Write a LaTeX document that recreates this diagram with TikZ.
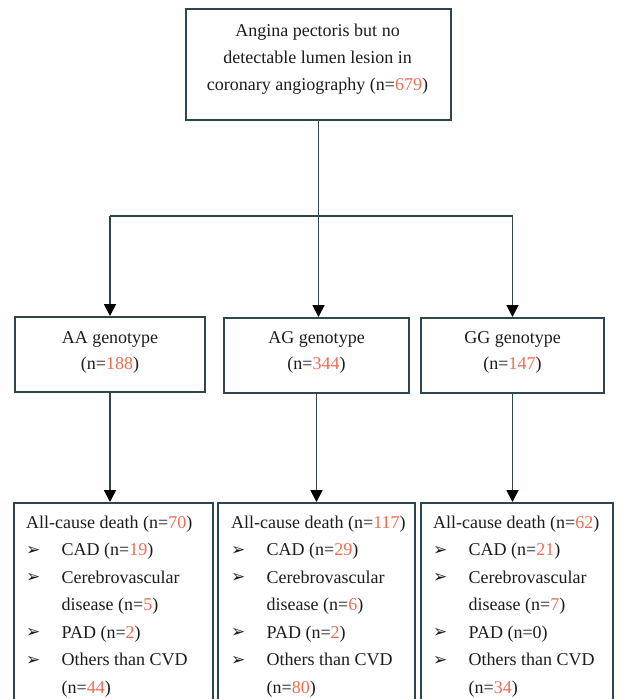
\documentclass[tikz,border=0pt]{standalone}
\usepackage{fontspec}
\setmainfont{Liberation Serif}
\newfontfamily\dingfont{DejaVu Sans}
\usetikzlibrary{arrows.meta}
\definecolor{txt}{RGB}{30,27,28}
\definecolor{num}{RGB}{240,108,80}
\definecolor{frame}{RGB}{45,70,80}
\newcommand\nn[1]{\textcolor{num}{#1}}
\newcommand\bul{\makebox[35.5pt][l]{\raisebox{0.5pt}{\dingfont\fontsize{17}{17}\selectfont ➢}}}
\newcommand\ind{\hspace*{35.5pt}}
\begin{document}
\begin{tikzpicture}[x=1pt,y=-1pt,
  box/.style={draw=frame, line width=2pt, inner sep=0pt, anchor=north west},
  txtnode/.style={inner sep=0pt, text=txt},
  conn/.style={draw=frame, line width=1.8pt},
  arr/.style={conn, -{Triangle[width=12pt,length=12pt,color=black]}},
]
\useasboundingbox (0,0) rectangle (622,699);
% boxes
\node[box, minimum width=265pt, minimum height=111pt] (top) at (185,8) {};
\node[box, minimum width=190pt, minimum height=75pt] (aa) at (14,316) {};
\node[box, minimum width=185pt, minimum height=75pt] (ag) at (223,317) {};
\node[box, minimum width=183pt, minimum height=75pt] (gg) at (420,317) {};
\node[box, minimum width=199pt, minimum height=230pt] (da) at (13,502) {};
\node[box, minimum width=197pt, minimum height=230pt] (db) at (217,502) {};
\node[box, minimum width=192pt, minimum height=230pt] (dc) at (420,502) {};
% texts
\node[txtnode, anchor=north, align=center, font=\fontsize{18}{27}\selectfont] (toptext) at (317.5,17.1)
  {\strut Angina pectoris but no\\detectable lumen lesion in\\coronary angiography (n=\nn{679})};
\node[txtnode, anchor=north, align=center, font=\fontsize{18}{26}\selectfont] (aatext) at (aa.north |- 0,324.8)
  {\strut AA genotype\\(n=\nn{188})};
\node[txtnode, anchor=north, align=center, font=\fontsize{18}{26}\selectfont] (agtext) at (ag.north |- 0,324.8)
  {\strut AG genotype\\(n=\nn{344})};
\node[txtnode, anchor=north, align=center, font=\fontsize{18}{26}\selectfont] (ggtext) at (gg.north |- 0,324.8)
  {\strut GG genotype\\(n=\nn{147})};
\node[txtnode, anchor=north west, align=left, font=\fontsize{18}{27.5}\selectfont] (datext) at (26,508.75)
  {\strut All-cause death (n=\nn{70})\\
   \bul CAD (n=\nn{19})\\
   \bul Cerebrovascular\\
   \ind disease (n=\nn{5})\\
   \bul PAD (n=\nn{2})\\
   \bul Others than CVD\\
   \ind (n=\nn{44})};
\node[txtnode, anchor=north west, align=left, font=\fontsize{18}{27.5}\selectfont] (dbtext) at (231,508.75)
  {\strut All-cause death (n=\nn{117})\\
   \bul CAD (n=\nn{29})\\
   \bul Cerebrovascular\\
   \ind disease (n=\nn{6})\\
   \bul PAD (n=\nn{2})\\
   \bul Others than CVD\\
   \ind (n=\nn{80})};
\node[txtnode, anchor=north west, align=left, font=\fontsize{18}{27.5}\selectfont] (dctext) at (433,508.75)
  {\strut All-cause death (n=\nn{62})\\
   \bul CAD (n=\nn{21})\\
   \bul Cerebrovascular\\
   \ind disease (n=\nn{7})\\
   \bul PAD (n=0)\\
   \bul Others than CVD\\
   \ind (n=\nn{34})};
% connectors
\coordinate (branch) at (317.5,216);
\draw[arr] (top.south) -- (top.south |- ag.north);
\draw[conn] (branch -| aa.north) -- (branch -| gg.north);
\draw[arr] (branch -| aa.north) -- (aa.north);
\draw[arr] (branch -| gg.north) -- (gg.north);
\draw[arr] (aa.south) -- (aa.south |- da.north);
\draw[arr] (ag.south) -- (ag.south |- db.north);
\draw[arr] (gg.south) -- (gg.south |- dc.north);
\end{tikzpicture}
\end{document}
